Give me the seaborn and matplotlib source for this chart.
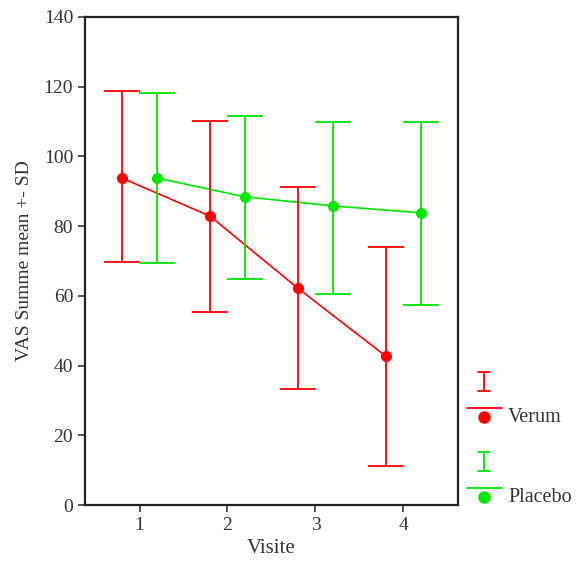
import numpy as np
import pandas as pd
import matplotlib
matplotlib.use("Agg")
import matplotlib.pyplot as plt
import seaborn as sns
from matplotlib.lines import Line2D

visits = [1, 2, 3, 4]
groups = ["Verum", "Placebo"]
verum_mean = [93.8, 82.9, 62.2, 42.7]
verum_lo = [69.7, 55.4, 33.3, 11.2]
verum_hi = [118.8, 110.2, 91.2, 74.0]
placebo_mean = [93.8, 88.4, 85.8, 83.8]
placebo_lo = [69.4, 64.8, 60.5, 57.4]
placebo_hi = [118.2, 111.6, 109.9, 109.9]

colors = {"Verum": "#ff0000", "Placebo": "#00e600"}
offsets = {"Verum": -0.2, "Placebo": 0.2}

df = pd.DataFrame({
    "Visite": visits * 2,
    "group": ["Verum"] * 4 + ["Placebo"] * 4,
    "mean": verum_mean + placebo_mean,
    "lo": verum_lo + placebo_lo,
    "hi": verum_hi + placebo_hi,
})
df["x"] = df["Visite"] + df["group"].map(offsets)

sns.set_style("ticks")
plt.rcParams["font.family"] = ["Liberation Serif", "DejaVu Serif"]

fig = plt.figure(figsize=(5.76, 5.64), dpi=100)
ax = fig.add_axes([0.1476, 0.1046, 0.795 - 0.1476, 0.9699 - 0.1046])

sns.lineplot(data=df, x="x", y="mean", hue="group", palette=colors,
             marker="o", markersize=8, markeredgewidth=0, linewidth=1.2,
             legend=False, ax=ax, hue_order=groups)

for g in groups:
    d = df[df["group"] == g]
    ax.errorbar(d["x"], d["mean"], yerr=[d["mean"] - d["lo"], d["hi"] - d["mean"]],
                fmt="none", ecolor=colors[g], elinewidth=1.3, capsize=13, capthick=1.3)

ax.set_xlim(0.38, 4.62)
ax.set_ylim(0, 140)
ax.set_xticks(visits)
ax.set_yticks(range(0, 141, 20))
ax.tick_params(direction="out", length=5, width=1.2, labelsize=14, colors="#333333")
for s in ax.spines.values():
    s.set_linewidth(1.6)
    s.set_color("#222222")
ax.set_xlabel("Visite", fontsize=15, color="#333333")
ax.set_ylabel("VAS Summe mean +- SD", fontsize=14, color="#333333", labelpad=8)

# custom legend on the right
W, H = 576, 564
def fx(px):
    return px / W
def fy(py):
    return 1 - py / H

for g, ytop in [("Verum", 372), ("Placebo", 452)]:
    c = colors[g]
    xc = 484
    fig.add_artist(Line2D([fx(xc), fx(xc)], [fy(ytop), fy(ytop + 19)], color=c, lw=1.3))
    for yy in (ytop, ytop + 19):
        fig.add_artist(Line2D([fx(xc - 6), fx(xc + 6)], [fy(yy), fy(yy)], color=c, lw=1.3))
    fig.add_artist(Line2D([fx(467), fx(502)], [fy(ytop + 36), fy(ytop + 36)], color=c, lw=1.3))
    fig.add_artist(Line2D([fx(xc)], [fy(ytop + 45)], color=c, marker="o", markersize=9,
                          markeredgewidth=0, lw=0))
    fig.text(fx(508), fy(ytop + 45), g, fontsize=14.5, va="center", ha="left", color="#333333")

fig.savefig("out.png", dpi=100)
